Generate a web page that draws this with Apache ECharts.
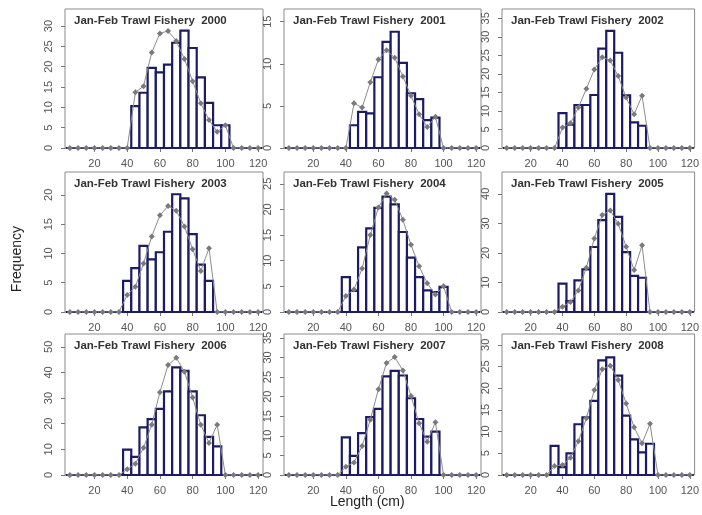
<!DOCTYPE html>
<html>
<head>
<meta charset="utf-8">
<script src="https://cdn.jsdelivr.net/npm/echarts@6/dist/echarts.min.js"></script>
<style>
  html, body { margin: 0; padding: 0; background: #fff; }
  #chart { width: 702px; height: 515px; }
</style>
</head>
<body>
<div id="chart"></div>
<script>
// length bins (cm), bin midpoints
const lengths = [5, 10, 15, 20, 25, 30, 35, 40, 45, 50, 55, 60, 65, 70, 75, 80, 85, 90, 95, 100, 105, 110, 115, 120];
const years = ['2000', '2001', '2002', '2003', '2004', '2005', '2006', '2007', '2008'];

// observed frequencies (bars)
const obs2000 = [0, 0, 0, 0, 0, 0, 0, 0, 10.3, 13.6, 19.7, 18.6, 20.5, 25.9, 28.9, 24.6, 17.4, 11.1, 5.6, 5.6, 0, 0, 0, 0];
const obs2001 = [0, 0, 0, 0, 0, 0, 0, 0, 2.7, 4.3, 4.1, 8.4, 12.6, 13.8, 10.1, 6.5, 5.8, 3.3, 3.6, 0, 0, 0, 0, 0];
const obs2002 = [0, 0, 0, 0, 0, 0, 0, 9.4, 6.3, 11.6, 11.6, 14.3, 26.8, 31.6, 25.7, 14.2, 6.9, 6.0, 0, 0, 0, 0, 0, 0];
const obs2003 = [0, 0, 0, 0, 0, 0, 0, 5.3, 7.5, 11.3, 9.0, 10.2, 13.7, 20.1, 19.4, 13.3, 8.1, 5.3, 0, 0, 0, 0, 0, 0];
const obs2004 = [0, 0, 0, 0, 0, 0, 0, 6.8, 4.1, 12.6, 16.3, 20.3, 22.5, 21.0, 15.6, 10.6, 6.8, 4.2, 3.9, 4.9, 0, 0, 0, 0];
const obs2005 = [0, 0, 0, 0, 0, 0, 0, 9.6, 3.7, 10.7, 14.4, 22.0, 31.1, 40.0, 32.2, 20.3, 12.2, 11.6, 0, 0, 0, 0, 0, 0];
const obs2006 = [0, 0, 0, 0, 0, 0, 0, 9.9, 7.1, 18.6, 21.8, 25.8, 32.6, 42.0, 40.6, 32.6, 23.3, 14.9, 11.2, 0, 0, 0, 0, 0];
const obs2007 = [0, 0, 0, 0, 0, 0, 0, 9.6, 4.9, 10.7, 14.8, 16.9, 25.2, 26.6, 25.4, 19.6, 14.3, 9.8, 11.1, 0, 0, 0, 0, 0];
const obs2008 = [0, 0, 0, 0, 0, 0, 6.7, 1.8, 5.0, 11.7, 13.3, 17.1, 26.4, 27.1, 22.9, 13.7, 8.2, 5.2, 7.2, 0, 0, 0, 0, 0];

// expected frequencies (grey line)
const exp2000 = [0, 0, 0, 0, 0, 0, 0, 0, 13.7, 15.2, 23.5, 28.2, 28.8, 26.3, 21.9, 16.4, 11.0, 6.9, 4.0, 5.6, 0, 0, 0, 0];
const exp2001 = [0, 0, 0, 0, 0, 0, 0, 0, 5.3, 4.8, 7.8, 10.5, 11.6, 10.7, 8.5, 6.2, 4.0, 2.5, 3.7, 0, 0, 0, 0, 0];
const exp2002 = [0, 0, 0, 0, 0, 0, 0, 5.5, 6.7, 10.9, 16.0, 21.2, 24.5, 23.6, 19.4, 13.6, 9.1, 14.1, 0, 0, 0, 0, 0, 0];
const exp2003 = [0, 0, 0, 0, 0, 0, 0, 2.9, 4.3, 8.3, 12.9, 16.5, 18.1, 17.3, 14.6, 10.7, 7.0, 10.9, 0, 0, 0, 0, 0, 0];
const exp2004 = [0, 0, 0, 0, 0, 0, 0, 3.1, 4.4, 8.5, 15.0, 20.4, 23.1, 21.9, 18.0, 13.1, 8.9, 5.6, 3.4, 5.0, 0, 0, 0, 0];
const exp2005 = [0, 0, 0, 0, 0, 0, 0, 1.8, 3.4, 7.3, 15.0, 24.9, 32.8, 34.4, 29.9, 22.1, 14.2, 22.6, 0, 0, 0, 0, 0, 0];
const exp2006 = [0, 0, 0, 0, 0, 0, 0, 2.2, 4.4, 10.6, 19.6, 32.3, 42.9, 45.7, 40.3, 30.2, 19.6, 12.5, 19.6, 0, 0, 0, 0, 0];
const exp2007 = [0, 0, 0, 0, 0, 0, 0, 2.1, 3.2, 7.4, 14.1, 21.9, 28.6, 30.1, 26.7, 20.2, 13.2, 8.5, 13.5, 0, 0, 0, 0, 0];
const exp2008 = [0, 0, 0, 0, 0, 0, 2.1, 2.3, 4.0, 7.8, 13.1, 19.6, 24.4, 25.2, 21.9, 16.5, 11.0, 7.3, 11.8, 0, 0, 0, 0, 0];

const obsAll = [obs2000, obs2001, obs2002, obs2003, obs2004, obs2005, obs2006, obs2007, obs2008];
const expAll = [exp2000, exp2001, exp2002, exp2003, exp2004, exp2005, exp2006, exp2007, exp2008];

// tick labels
const xTicks = [20, 40, 60, 80, 100, 120];
const yTicks2000 = [0, 5, 10, 15, 20, 25, 30];
const yTicks2001 = [0, 5, 10, 15];
const yTicks2002 = [0, 5, 10, 15, 20, 25, 30, 35];
const yTicks2003 = [0, 5, 10, 15, 20];
const yTicks2004 = [0, 5, 10, 15, 20, 25];
const yTicks2005 = [0, 10, 20, 30, 40];
const yTicks2006 = [0, 10, 20, 30, 40, 50];
const yTicks2007 = [0, 5, 10, 15, 20, 25, 30, 35];
const yTicks2008 = [0, 5, 10, 15, 20, 25, 30];
const yTicksAll = [yTicks2000, yTicks2001, yTicks2002, yTicks2003, yTicks2004, yTicks2005, yTicks2006, yTicks2007, yTicks2008];

// panel layout
const colLeft = [65, 284, 502];
const colWidth = [198, 197, 196];
const rowTop = [9, 172, 334];
const rowHeight = [139, 140, 141];
const yMax = [34.2, 16.5, 37.5, 23.9, 27.3, 47.4, 55, 36, 32.5];

const NAVY = '#1b1b66';
const FONT = '"Liberation Sans", Arial, sans-serif';

const chart = echarts.init(document.getElementById('chart'));

const grids = [], xAxes = [], yAxes = [], series = [], titles = [];

years.forEach((yr, i) => {
    const r = Math.floor(i / 3), c = i % 3;
    grids.push({
        left: colLeft[c], top: rowTop[r], width: colWidth[c], height: rowHeight[r],
        show: true, borderColor: '#8a8a8a', borderWidth: 1, backgroundColor: 'transparent'
    });
    xAxes.push({
        type: 'value', gridIndex: i, min: 2, max: 123,
        splitLine: { show: false },
        axisLine: { show: false },
        axisTick: { show: true, length: 4, lineStyle: { color: '#777' }, customValues: xTicks },
        axisLabel: { customValues: xTicks, color: '#555', fontSize: 11, fontFamily: FONT, margin: 10 }
    });
    yAxes.push({
        type: 'value', gridIndex: i, min: 0, max: yMax[i],
        splitLine: { show: false },
        axisLine: { show: false },
        axisTick: { show: true, length: 4, lineStyle: { color: '#777' }, customValues: yTicksAll[i] },
        axisLabel: { customValues: yTicksAll[i], rotate: 90, color: '#555', fontSize: 11, fontFamily: FONT, margin: 11 }
    });
    series.push({
        type: 'custom', xAxisIndex: i, yAxisIndex: i,
        data: lengths.map((x, k) => [x, obsAll[i][k]]),
        renderItem: (params, api) => {
            const x = api.value(0), v = api.value(1);
            const p0 = api.coord([x - 2.5, v]);
            const p1 = api.coord([x + 2.5, 0]);
            return {
                type: 'rect',
                shape: { x: p0[0], y: p0[1], width: p1[0] - p0[0], height: p1[1] - p0[1] },
                style: { fill: '#fff', stroke: NAVY, lineWidth: 2.2 }
            };
        },
        silent: true
    });
    series.push({
        type: 'line', xAxisIndex: i, yAxisIndex: i,
        data: lengths.map((x, k) => [x, expAll[i][k]]),
        symbol: 'diamond', symbolSize: 6,
        itemStyle: { color: '#7a7a7a' },
        lineStyle: { color: '#8c8c8c', width: 1 },
        z: 3, silent: true, animation: false
    });
    titles.push({
        text: 'Jan-Feb Trawl Fishery  ' + yr,
        left: colLeft[c] + 4, top: rowTop[r] + 1,
        textStyle: { fontSize: 11.5, fontWeight: 'bold', color: '#333', fontFamily: FONT }
    });
});

chart.setOption({
    animation: false,
    title: titles,
    grid: grids,
    xAxis: xAxes,
    yAxis: yAxes,
    series: series,
    graphic: [
        {
            type: 'text', left: 10, top: 226, rotation: Math.PI / 2,
            style: { text: 'Frequency', fill: '#222', font: '14px ' + FONT }
        },
        {
            type: 'text', left: 330, top: 495,
            style: { text: 'Length (cm)', fill: '#222', font: '14px ' + FONT }
        }
    ]
});
</script>
</body>
</html>
